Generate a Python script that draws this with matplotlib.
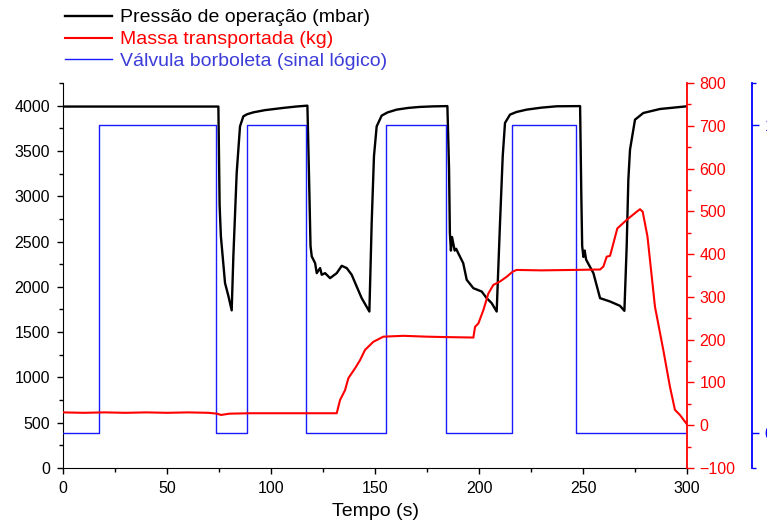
import numpy as np
import matplotlib
matplotlib.use('Agg')
import matplotlib.pyplot as plt
from matplotlib.ticker import MultipleLocator, FixedLocator

plt.rcParams['font.family'] = ['Liberation Sans', 'DejaVu Sans']

# pressure (mbar)
t_press = [0, 74.7, 75.3, 75.9, 77.9, 79.5, 81.1, 81.9, 83.5, 85.1, 86.7, 88.5, 91.5, 97,
           105.9, 112, 117.5, 118.3, 119.0, 119.6, 121.2, 122, 123.6, 124.4, 126, 128.4,
           131.6, 134, 136.4, 138.8, 141.2, 143.6, 147.3, 148.4, 149.5, 150.8, 153.2, 156,
           160.4, 166, 171.6, 178, 184.8, 185.6, 186, 186.5, 187, 187.6, 188.3, 189, 190,
           192.4, 194.1, 197.3, 201.3, 203.7, 206.1, 208.5, 210.1, 211.4, 212.5, 214.9, 218,
           222.9, 230, 237.4, 248.6, 249.2, 249.6, 250.2, 250.8, 251.5, 255, 258.2, 263,
           267.8, 269.9, 271, 271.8, 272.6, 275, 279, 287, 300]
pressure = [3990, 3990, 2900, 2560, 2041, 1900, 1740, 2335, 3256, 3771, 3882, 3905, 3926, 3950,
            3975, 3990, 4000, 3200, 2450, 2335, 2262, 2151, 2207, 2133, 2151, 2096,
            2151, 2232, 2207, 2133, 2003, 1875, 1727, 2704, 3440, 3771, 3890, 3925,
            3956, 3975, 3986, 3992, 3995, 3300, 2593, 2400, 2550, 2483, 2400, 2420, 2372,
            2262, 2077, 1985, 1948, 1875, 1820, 1727, 2704, 3440, 3809, 3901, 3930,
            3956, 3978, 3993, 3995, 3000, 2450, 2330, 2400, 2300, 2151, 1875, 1838,
            1790, 1735, 2446, 3182, 3514, 3845, 3919, 3963, 3993]

# transported mass (kg)
t_mass = [0, 10, 20, 30, 40, 50, 60, 70, 74, 76, 80, 90, 100, 110, 120, 131.6, 133.2, 135.6,
          137.2, 140.4, 142.8, 145.2, 149.2, 154, 163.6, 175, 184.5, 197.3, 198.1, 199.7,
          202.1, 204.5, 206.9, 210.1, 213.3, 216.2, 218.1, 230, 245, 258.2, 259.8, 261.4,
          263, 264.6, 266.5, 271, 275.8, 277.4, 278.7, 281, 284.6, 288.6, 291.8, 294.2,
          296.6, 300]
mass = [30, 29, 30, 29, 30, 29, 30, 29, 27, 24, 27, 28, 28, 28, 28, 28, 59, 82,
        110, 133, 152, 176, 195, 207, 209, 207, 206, 205, 230, 238,
        269, 308, 328, 336, 347, 359, 363, 362, 363, 364, 371, 394,
        396, 425, 460, 480, 499, 505, 499, 441, 277, 176, 90, 36,
        24, 2]

# butterfly valve logic signal
t_valve = [0, 17.3, 73.6, 88.6, 116.8, 155.3, 183.9, 216, 246.8, 300]
valve = [0, 1, 0, 1, 0, 1, 0, 1, 0, 0]

fig = plt.figure(figsize=(7.67, 5.21), dpi=100)
ax = fig.add_axes([63 / 767, 53 / 521, 624 / 767, 385 / 521])
ax_blue = ax.twinx()
ax_red = ax.twinx()

l1, = ax.plot(t_press, pressure, color='black', lw=1.7, label='Pressão de operação (mbar)')
l3, = ax_blue.plot(t_valve, valve, color='#1a1aff', lw=1.0, drawstyle='steps-post',
                   label='Válvula borboleta (sinal lógico)')
l2, = ax_red.plot(t_mass, mass, color='red', lw=1.5, label='Massa transportada (kg)')

ax.set_xlim(0, 300)
ax.set_ylim(0, 4250)
ax.xaxis.set_major_locator(MultipleLocator(50))
ax.xaxis.set_minor_locator(MultipleLocator(25))
ax.yaxis.set_major_locator(MultipleLocator(500))
ax.yaxis.set_minor_locator(MultipleLocator(250))
ax.spines['top'].set_visible(False)
ax.spines['right'].set_visible(False)
ax.tick_params(which='major', length=4.5, width=1, labelsize=11.5, pad=5)
ax.tick_params(which='minor', length=3, width=1)
ax.set_xlabel('Tempo (s)', fontsize=14, labelpad=5)

ax_red.set_ylim(-100, 800)
ax_red.yaxis.set_major_locator(MultipleLocator(100))
ax_red.yaxis.set_minor_locator(MultipleLocator(50))
for s in ['top', 'left', 'bottom']:
    ax_red.spines[s].set_visible(False)
ax_red.spines['right'].set_color('red')
ax_red.spines['right'].set_linewidth(1.3)
ax_red.tick_params(which='both', colors='red', width=1)
ax_red.tick_params(which='major', length=5, labelsize=11.5, pad=4)
ax_red.tick_params(which='minor', length=3)

ax_blue.set_ylim(-0.114, 1.136)
ax_blue.spines['right'].set_position(('axes', 1 + 65 / 624))
for s in ['top', 'left', 'bottom']:
    ax_blue.spines[s].set_visible(False)
ax_blue.spines['right'].set_color('blue')
ax_blue.spines['right'].set_linewidth(1.3)
ax_blue.yaxis.set_major_locator(FixedLocator([0, 1]))
ax_blue.yaxis.set_minor_locator(FixedLocator([-0.114, 1.136]))
ax_blue.tick_params(which='both', colors='blue', width=1)
ax_blue.tick_params(which='major', length=5, labelsize=11.5, pad=4)
ax_blue.tick_params(which='minor', length=3)

leg = fig.legend(handles=[l1, l2, l3], loc='upper left', bbox_to_anchor=(61 / 767, 1 - 5 / 521),
                 frameon=False, fontsize=14, handlelength=2.4, handletextpad=0.45,
                 labelspacing=0.22, borderaxespad=0, borderpad=0.2)
for txt, c in zip(leg.get_texts(), ['black', 'red', '#3c3cd8']):
    txt.set_color(c)

fig.savefig('out.png', dpi=100)
